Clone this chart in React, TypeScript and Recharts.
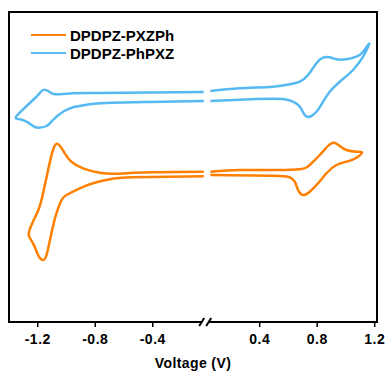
import React from 'react';
import { LineChart, Line, XAxis, YAxis, ReferenceArea, ReferenceDot, Legend } from 'recharts';

// axis break: voltages right of the break are shifted left by GAP
const GAP = 0.056;
const BREAK_U = -0.035;
const toAxis = (v: number) => (v > 0 ? v - GAP : v);

const tickVolts = [-1.2, -0.8, -0.4, 0.4, 0.8, 1.2];
const seriesNames = ['DPDPZ-PXZPh', 'DPDPZ-PhPXZ'];
const seriesColors = ['#FF8000', '#56B9F2'];

// DPDPZ-PhPXZ, negative side (upper branch -> tip -> lower branch)
const blueLeftV = [-0.045, -0.421, -0.769, -0.977, -1.082, -1.128, -1.163, -1.198, -1.233, -1.302, -1.353,
  -1.325, -1.279, -1.233, -1.198, -1.139, -1.094, -1.024, -0.954, -0.908, -0.769, -0.421, -0.045];
const blueLeftI = [7.5, 7.45, 7.4, 7.36, 7.28, 7.6, 7.7, 7.2, 6.7, 5.77, 4.97,
  4.77, 4.53, 4.1, 3.93, 4.1, 4.7, 5.53, 5.97, 6.1, 6.37, 6.5, 6.6];

// DPDPZ-PhPXZ, positive side (lower branch -> tip -> upper branch)
const blueRightV = [0.057, 0.377, 0.562, 0.632, 0.679, 0.713, 0.748, 0.795, 0.841, 0.887, 0.957, 1.049, 1.119, 1.154, 1.159,
  1.119, 1.073, 1.003, 0.934, 0.887, 0.841, 0.795, 0.736, 0.679, 0.609, 0.493, 0.261, 0.057];
const blueRightI = [6.6, 6.8, 6.8, 6.53, 6.03, 5.2, 5.03, 5.53, 6.53, 7.53, 8.53, 9.7, 11.03, 12.03, 12.3,
  11.53, 11.03, 10.77, 10.77, 10.97, 10.93, 10.37, 9.2, 8.53, 8.27, 8.03, 7.87, 7.6];

// DPDPZ-PXZPh, negative side
const orangeLeftV = [-0.045, -0.421, -0.653, -0.769, -0.885, -0.966, -1.012, -1.059, -1.094, -1.128, -1.163, -1.191, -1.233, -1.263,
  -1.233, -1.198, -1.167, -1.139, -1.105, -1.07, -1.035, -1.0, -0.908, -0.815, -0.699, -0.537, -0.045];
const orangeLeftI = [-0.47, -0.53, -0.67, -0.57, -0.13, 0.53, 1.37, 2.3, 1.7, -0.3, -2.63, -4.13, -5.47, -6.73,
  -7.63, -8.8, -9.3, -8.8, -6.63, -4.63, -3.3, -2.8, -2.13, -1.63, -1.23, -1.03, -0.93];

// DPDPZ-PXZPh, positive side
const orangeRightV = [0.057, 0.493, 0.609, 0.644, 0.667, 0.702, 0.748, 0.806, 0.864, 0.934, 1.026, 1.084, 1.112,
  1.073, 1.003, 0.957, 0.915, 0.875, 0.818, 0.748, 0.679, 0.493, 0.261, 0.057];
const orangeRightI = [-0.8, -0.87, -1.03, -1.47, -2.3, -2.8, -2.47, -1.63, -0.63, 0.2, 0.63, 1.03, 1.47,
  1.53, 1.7, 2.1, 2.43, 2.1, 1.2, 0.2, -0.23, -0.3, -0.3, -0.47];

const build = (vs: number[], is: number[]) => vs.map((v, k) => ({ x: toAxis(v), y: is[k] }));

const pieces = [
  { key: 'oL', data: build(orangeLeftV, orangeLeftI), color: seriesColors[0] },
  { key: 'oR', data: build(orangeRightV, orangeRightI), color: seriesColors[0] },
  { key: 'bL', data: build(blueLeftV, blueLeftI), color: seriesColors[1] },
  { key: 'bR', data: build(blueRightV, blueRightI), color: seriesColors[1] },
];

const X_MIN = -1.4;
const X_MAX = 1.16;
const Y_MIN = -15.5;
const Y_MAX = 15.5;

const fmtTick = (u: number) => (u > BREAK_U ? u + GAP : u).toFixed(1);

const BreakMark = (props: any) => {
  const { cx, cy } = props;
  return (
    <g>
      <rect x={cx - 3} y={cy - 2} width={6} height={4} fill="#fff" />
      <line x1={cx - 6} y1={cy + 4} x2={cx - 1} y2={cy - 4} stroke="#000" strokeWidth={2} />
      <line x1={cx + 1} y1={cy + 4} x2={cx + 6} y2={cy - 4} stroke="#000" strokeWidth={2} />
    </g>
  );
};

const renderLegend = () => (
  <div>
    {seriesNames.map((name, k) => (
      <div key={name} style={{ display: 'flex', alignItems: 'center', height: 18 }}>
        <span style={{ display: 'inline-block', width: 35, height: 2.5, background: seriesColors[k], marginRight: 4 }} />
        <span style={{ fontSize: 15, fontWeight: 700, color: '#000' }}>{name}</span>
      </div>
    ))}
  </div>
);

export default function App() {
  return (
    <div style={{ position: 'absolute', left: 0, top: 0, fontFamily: '"Liberation Sans", Arial, sans-serif' }}>
      <LineChart width={388} height={374} margin={{ top: 12, right: 11, bottom: 0, left: 9 }}>
        <XAxis
          type="number"
          dataKey="x"
          domain={[X_MIN, X_MAX]}
          allowDataOverflow
          ticks={tickVolts.map(toAxis)}
          tickFormatter={fmtTick}
          height={52}
          axisLine={{ stroke: '#000', strokeWidth: 2 }}
          tickLine={{ stroke: '#000', strokeWidth: 1.5 }}
          tickSize={5}
          tickMargin={7}
          tick={{ fill: '#000', fontSize: 14, fontWeight: 700, letterSpacing: 0.5 }}
          label={{ value: 'Voltage (V)', position: 'insideBottom', offset: 6, fill: '#000', fontSize: 14, fontWeight: 700, letterSpacing: 0.4 }}
        />
        <YAxis type="number" domain={[Y_MIN, Y_MAX]} allowDataOverflow hide />
        <ReferenceArea x1={X_MIN} x2={X_MAX} y1={Y_MIN} y2={Y_MAX} fill="none" fillOpacity={0} stroke="#000" strokeWidth={2} />
        {pieces.map((p) => (
          <Line
            key={p.key}
            data={p.data}
            dataKey="y"
            type="natural"
            stroke={p.color}
            strokeWidth={2.5}
            dot={false}
            legendType="none"
            isAnimationActive={false}
          />
        ))}
        <ReferenceDot x={BREAK_U} y={Y_MIN} r={0} ifOverflow="visible" shape={BreakMark} />
        <Legend
          layout="vertical"
          align="center"
          verticalAlign="middle"
          wrapperStyle={{ top: 26, left: 31, width: 'auto' }}
          content={renderLegend}
        />
      </LineChart>
    </div>
  );
}
